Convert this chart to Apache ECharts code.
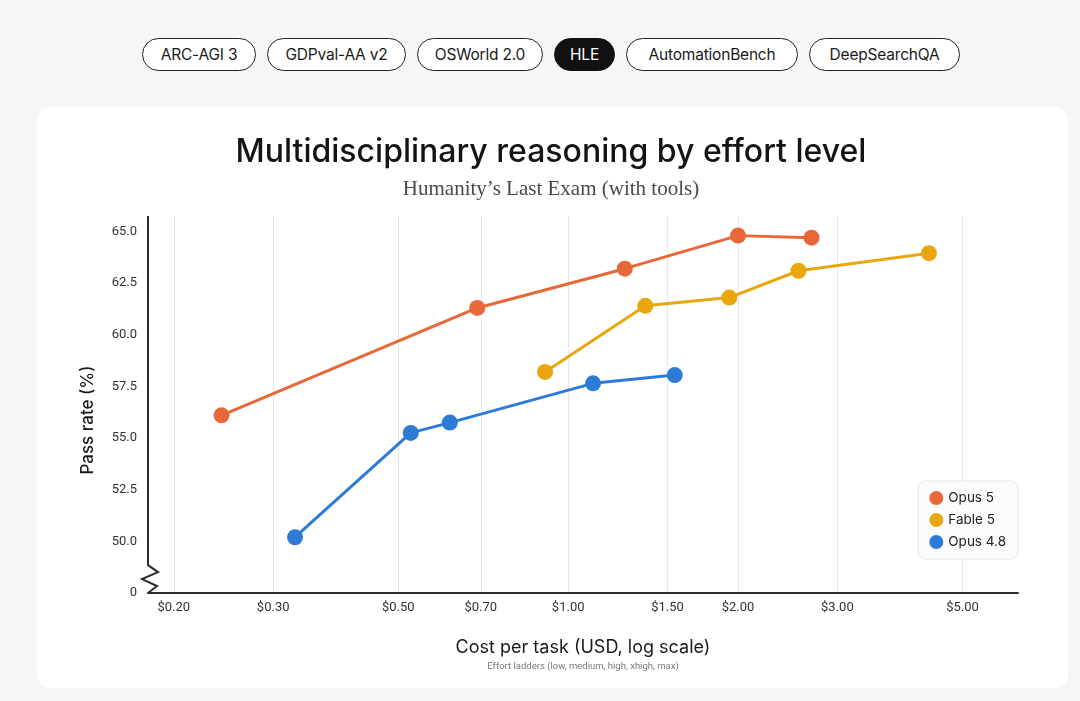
<!DOCTYPE html>
<html>
<head>
<meta charset="UTF-8"/>
<title>HLE - effort level</title>
<script src="https://cdn.jsdelivr.net/npm/echarts@6/dist/echarts.min.js"></script>
<style>
body{margin:0;background:#f6f6f5;font-family:Inter,Roboto,sans-serif;}
.tabs{position:absolute;left:142px;top:38px;display:flex;gap:11px;}
.tab{box-sizing:border-box;height:33px;line-height:31px;border:1.3px solid #222;border-radius:17px;
  text-align:center;font-size:15.5px;color:#1a1a1a;background:#fff;letter-spacing:-0.2px;}
.tab.on{background:#111;color:#fff;border-color:#111;}
.card{position:absolute;left:37px;top:107px;width:1031px;height:581px;background:#fff;border-radius:14px;}
#main{position:absolute;left:0;top:0;width:1080px;height:701px;}
</style>
</head>
<body>
<div class="tabs">
  <div class="tab" style="width:114px">ARC-AGI 3</div>
  <div class="tab" style="width:139px">GDPval-AA v2</div>
  <div class="tab" style="width:126px">OSWorld 2.0</div>
  <div class="tab on" style="width:61px">HLE</div>
  <div class="tab" style="width:172px">AutomationBench</div>
  <div class="tab" style="width:151px">DeepSearchQA</div>
</div>
<div class="card"></div>
<div id="main"></div>
<script type="text/javascript">
// 数据 (cost in USD, pass rate in %)
var seriesNames = ['Opus 5', 'Fable 5', 'Opus 4.8'];
var seriesColors = ['#E8683A', '#E9A60E', '#2E7BD6'];
var costOpus5 = [0.243, 0.69, 1.26, 2.0, 2.70];
var passOpus5 = [56.1, 61.3, 63.2, 64.8, 64.7];
var costFable5 = [0.91, 1.37, 1.93, 2.56, 4.36];
var passFable5 = [58.2, 61.4, 61.8, 63.1, 63.95];
var costOpus48 = [0.328, 0.526, 0.617, 1.107, 1.545];
var passOpus48 = [50.2, 55.25, 55.75, 57.65, 58.05];
var costTicks = [0.2, 0.3, 0.5, 0.7, 1.0, 1.5, 2.0, 3.0, 5.0];

var xMin = 0.18, xMax = 6.27;
var yMin = 47.5, yMax = 65.75, yStep = 2.5;   // 47.5 is shown as "0" (broken axis)

function pairs(xs, ys){
  var out = [];
  for(var i=0;i<xs.length;i++){ out.push([xs[i], ys[i]]); }
  return out;
}
var allData = [pairs(costOpus5, passOpus5), pairs(costFable5, passFable5), pairs(costOpus48, passOpus48)];

var myChart = echarts.init(document.getElementById('main'));

var option = {
  backgroundColor: 'transparent',
  animation: false,
  title: [
    {
      text: 'Multidisciplinary reasoning by effort level',
      subtext: 'Humanity\u2019s Last Exam (with tools)',
      left: 551, top: 136, textAlign: 'center', padding: 0, itemGap: 11,
      textStyle: {fontFamily: 'Inter', fontSize: 32, fontWeight: 500, color: '#141414'},
      subtextStyle: {fontFamily: 'Liberation Serif', fontSize: 21, color: '#4a4a4a'}
    },
    {
      text: 'Effort ladders (low, medium, high, xhigh, max)',
      left: 583, top: 662, textAlign: 'center', padding: 0,
      textStyle: {fontFamily: 'Roboto', fontSize: 9.5, fontWeight: 'normal', color: '#7a7a7a'}
    }
  ],
  legend: {
    orient: 'vertical', right: 62, top: 481,
    icon: 'circle', itemWidth: 14, itemHeight: 14, itemGap: 8,
    padding: [10, 12, 10, 11],
    backgroundColor: '#fcfcfc', borderColor: '#e6e6e6', borderWidth: 1, borderRadius: 7,
    textStyle: {fontFamily: 'Inter', fontSize: 13.5, color: '#222'},
    data: seriesNames
  },
  grid: {left: 148, right: 62, top: 216, bottom: 108, containLabel: false},
  xAxis: {
    type: 'log', min: xMin, max: xMax,
    name: 'Cost per task (USD, log scale)', nameLocation: 'middle', nameGap: 46,
    nameTextStyle: {fontFamily: 'Inter', fontSize: 18, color: '#1a1a1a'},
    axisLine: {onZero: false, lineStyle: {color: '#2b2b2b', width: 2}},
    axisTick: {show: false, customValues: costTicks},
    axisLabel: {
      customValues: costTicks, margin: 8,
      fontFamily: 'Roboto', fontSize: 13, color: '#333',
      formatter: function(v){ return '$' + v.toFixed(2); }
    },
    splitLine: {show: true, lineStyle: {color: '#e8e8e8', width: 1}},
    minorTick: {show: false}, minorSplitLine: {show: false}
  },
  yAxis: {
    type: 'value', min: yMin, max: yMax, interval: yStep,
    axisLine: {show: false},
    axisTick: {show: false},
    splitLine: {show: false},
    axisLabel: {
      margin: 11, fontFamily: 'Roboto', fontSize: 13, color: '#333',
      formatter: function(v){
        if (v < yMin + 0.01) return '0';
        if (v > 65.01) return '';
        return v.toFixed(1);
      }
    }
  },
  series: seriesNames.map(function(name, i){
    return {
      name: name, type: 'line', data: allData[i],
      symbol: 'circle', symbolSize: 16,
      lineStyle: {width: 3, color: seriesColors[i]},
      itemStyle: {color: seriesColors[i]},
      emphasis: {disabled: true},
      z: 3 + (2 - i)
    };
  })
};

myChart.setOption(option);

// y axis line with the zigzag break, drawn from the axis scale
var x0 = myChart.convertToPixel({xAxisIndex: 0}, xMin);
var yTop = myChart.convertToPixel({yAxisIndex: 0}, yMax);
var yBot = myChart.convertToPixel({yAxisIndex: 0}, yMin);
var yBrk = myChart.convertToPixel({yAxisIndex: 0}, 48.85);
var step = (yBot - yBrk) / 4;

myChart.setOption({
  graphic: [
    {
      type: 'polyline', z: 10,
      shape: {points: [[x0, yTop], [x0, yBrk], [x0 + 10, yBrk + step], [x0 - 6, yBrk + 2*step], [x0 + 9, yBrk + 3*step], [x0, yBot]]},
      style: {stroke: '#2b2b2b', lineWidth: 2, fill: null, lineJoin: 'miter'}
    },
    {
      type: 'text', x: 88, y: 420, rotation: Math.PI / 2,
      style: {text: 'Pass rate (%)', align: 'center', verticalAlign: 'middle',
        fontFamily: 'Inter', fontSize: 17, fontWeight: 500, fill: '#1a1a1a'}
    }
  ]
});
</script>
</body>
</html>
